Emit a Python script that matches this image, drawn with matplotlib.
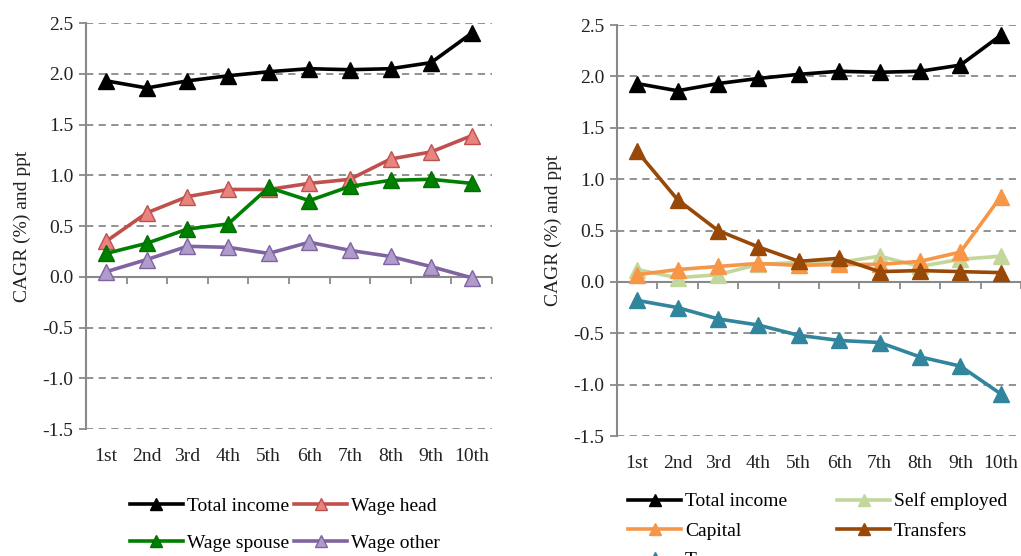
import matplotlib
matplotlib.use("Agg")
import matplotlib.pyplot as plt
import numpy as np

categories = ["1st", "2nd", "3rd", "4th", "5th", "6th", "7th", "8th", "9th", "10th"]

total_income = [1.93, 1.86, 1.93, 1.98, 2.02, 2.05, 2.04, 2.05, 2.11, 2.40]
wage_head = [0.35, 0.63, 0.79, 0.86, 0.86, 0.92, 0.96, 1.16, 1.23, 1.39]
wage_spouse = [0.23, 0.33, 0.47, 0.52, 0.88, 0.75, 0.89, 0.95, 0.96, 0.92]
wage_other = [0.05, 0.17, 0.30, 0.29, 0.23, 0.34, 0.26, 0.20, 0.10, -0.01]

self_employed = [0.12, 0.04, 0.07, 0.17, 0.19, 0.19, 0.25, 0.15, 0.22, 0.25]
capital = [0.07, 0.12, 0.15, 0.18, 0.16, 0.17, 0.17, 0.20, 0.29, 0.83]
transfers = [1.27, 0.80, 0.50, 0.34, 0.20, 0.23, 0.10, 0.11, 0.10, 0.09]
taxes = [-0.18, -0.25, -0.36, -0.42, -0.52, -0.57, -0.59, -0.73, -0.82, -1.09]

yticks = [-1.5, -1.0, -0.5, 0.0, 0.5, 1.0, 1.5, 2.0, 2.5]

plt.rcParams['font.family'] = ['Liberation Serif', 'DejaVu Serif']
FS = 14
GRAY = '#898989'

fig = plt.figure(figsize=(10.21, 5.56), dpi=100)
ax1 = fig.add_axes([0.0842, 0.2284, 0.3977, 0.7302])
ax2 = fig.add_axes([0.6043, 0.2158, 0.3957, 0.7392])

def style(ax):
    x = np.arange(len(categories))
    ax.set_xlim(-0.5, len(categories) - 0.5)
    ax.set_ylim(-1.5, 2.5)
    ax.set_yticks(yticks)
    ax.set_yticklabels([f"{v:.1f}" for v in yticks], fontsize=FS, color='#222222')
    for v in yticks:
        if v != 0:
            ax.axhline(v, color=GRAY, lw=1.3, ls=(0, (4, 3)), zorder=0)
    ax.axhline(0, color=GRAY, lw=1.5, zorder=1)
    for s in ['top', 'right', 'bottom']:
        ax.spines[s].set_visible(False)
    ax.spines['left'].set_color(GRAY)
    ax.spines['left'].set_linewidth(1.5)
    ax.tick_params(axis='y', direction='out', length=5, color=GRAY, width=1.3, pad=4)
    ax.set_xticks(x)
    ax.set_xticklabels(categories, fontsize=FS, color='#222222')
    ax.tick_params(axis='x', length=0, pad=14)
    sec = ax.secondary_xaxis(0.375)
    sec.set_xticks(np.arange(len(categories) + 1) - 0.5)
    sec.set_xticklabels([])
    sec.tick_params(direction='out', length=5, color=GRAY, width=1.3)
    sec.spines['bottom'].set_visible(False)
    ax.set_ylabel("CAGR (%) and ppt", fontsize=FS, color='#222222', labelpad=8)

x = np.arange(len(categories))
ms = 12
lw = 2.6

style(ax1)
ax1.plot(x, total_income, color='black', lw=lw, marker='^', ms=ms, mfc='black', mec='black', label='Total income', clip_on=False)
ax1.plot(x, wage_head, color='#C0504D', lw=lw, marker='^', ms=ms, mfc='#E8847F', mec='#C0504D', label='Wage head', clip_on=False)
ax1.plot(x, wage_spouse, color='#008000', lw=lw, marker='^', ms=ms, mfc='#008000', mec='#007000', label='Wage spouse', clip_on=False)
ax1.plot(x, wage_other, color='#8064A2', lw=lw, marker='^', ms=ms, mfc='#B09CCB', mec='#8064A2', label='Wage other', clip_on=False)

h, l = ax1.get_legend_handles_labels()
order = [0, 2, 1, 3]
leg1 = ax1.legend([h[i] for i in order], [l[i] for i in order], loc='upper center',
                  bbox_to_anchor=(0.49, -0.125), ncol=2, frameon=False,
                  fontsize=FS, handlelength=2.7, handletextpad=0.2, columnspacing=0.3,
                  labelspacing=1.0, markerscale=0.75)

style(ax2)
ax2.plot(x, total_income, color='black', lw=lw, marker='^', ms=ms, mfc='black', mec='black', label='Total income', clip_on=False)
ax2.plot(x, self_employed, color='#C3D69B', lw=lw, marker='^', ms=ms, mfc='#C3D69B', mec='#C3D69B', label='Self employed', clip_on=False)
ax2.plot(x, capital, color='#F79646', lw=lw, marker='^', ms=ms, mfc='#F79646', mec='#F79646', label='Capital', clip_on=False)
ax2.plot(x, transfers, color='#984807', lw=lw, marker='^', ms=ms, mfc='#984807', mec='#984807', label='Transfers', clip_on=False)
ax2.plot(x, taxes, color='#31859C', lw=lw, marker='^', ms=ms, mfc='#31859C', mec='#31859C', label='Taxes', clip_on=False)

h, l = ax2.get_legend_handles_labels()
order = [0, 2, 4, 1, 3]
leg2 = ax2.legend([h[i] for i in order], [l[i] for i in order], loc='upper left',
                  bbox_to_anchor=(-0.015, -0.095), ncol=2, frameon=False,
                  fontsize=FS, handlelength=2.7, handletextpad=0.2, columnspacing=2.6,
                  labelspacing=0.6, markerscale=0.75)

fig.savefig("out.png", dpi=100)
